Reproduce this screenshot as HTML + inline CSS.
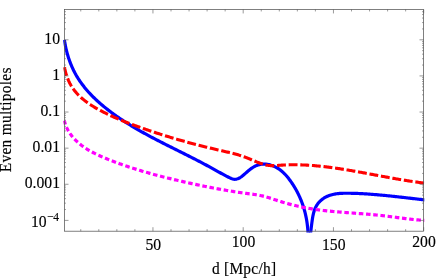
<!DOCTYPE html>
<html><head><meta charset="utf-8"><title>plot</title>
<style>
html,body{margin:0;padding:0;background:#fff;}
body{width:436px;height:278px;overflow:hidden;}
svg{display:block;}
text{font-family:"Liberation Serif",serif;font-size:15.4px;fill:#000;stroke:#000;stroke-width:0.15px;}
#w{will-change:transform;opacity:0.999;width:436px;height:278px;}
</style></head><body>
<div id="w"><svg width="436" height="278" viewBox="0 0 436 278">
<rect width="436" height="278" fill="#fff"/>
<defs><clipPath id="c"><rect x="63.2" y="9.45" width="361.1" height="223.15"/></clipPath></defs>
<g clip-path="url(#c)" fill="none" stroke-linejoin="round">
<path d="M64.40,39.90 L64.55,40.88 L64.70,41.87 L64.87,42.85 L65.04,43.83 L65.22,44.81 L65.41,45.79 L65.61,46.77 L65.82,47.75 L66.04,48.73 L66.26,49.71 L66.50,50.68 L66.75,51.65 L67.00,52.62 L67.26,53.59 L67.54,54.56 L67.82,55.52 L68.11,56.48 L68.41,57.44 L68.72,58.39 L69.04,59.35 L69.37,60.29 L69.71,61.24 L70.06,62.18 L70.42,63.11 L70.79,64.05 L71.16,64.97 L71.55,65.90 L71.95,66.82 L72.35,67.73 L72.77,68.64 L73.20,69.54 L73.63,70.44 L74.08,71.33 L74.54,72.22 L75.00,73.10 L75.48,73.97 L75.96,74.84 L76.46,75.70 L76.97,76.56 L77.48,77.41 L78.00,78.25 L78.54,79.09 L79.08,79.92 L79.63,80.74 L80.19,81.56 L80.76,82.38 L81.34,83.19 L81.93,83.99 L82.52,84.79 L83.12,85.58 L83.73,86.36 L84.35,87.14 L84.98,87.92 L85.61,88.68 L86.25,89.45 L86.90,90.21 L87.55,90.96 L88.21,91.70 L88.88,92.45 L89.56,93.18 L90.24,93.91 L90.93,94.64 L91.62,95.36 L92.32,96.08 L93.03,96.79 L93.74,97.49 L94.46,98.19 L95.18,98.89 L95.91,99.58 L96.64,100.27 L97.38,100.95 L98.12,101.62 L98.87,102.30 L99.63,102.96 L100.38,103.62 L101.15,104.28 L101.91,104.93 L102.68,105.58 L103.46,106.23 L104.23,106.87 L105.02,107.50 L105.80,108.13 L106.59,108.76 L107.38,109.38 L108.18,110.00 L108.97,110.61 L109.77,111.22 L110.58,111.83 L111.38,112.43 L112.19,113.03 L113.00,113.62 L113.81,114.21 L114.63,114.79 L115.45,115.38 L116.26,115.95 L117.08,116.53 L117.91,117.10 L118.73,117.66 L119.56,118.23 L120.39,118.79 L121.22,119.34 L122.05,119.90 L122.88,120.44 L123.72,120.99 L124.56,121.53 L125.40,122.07 L126.24,122.61 L127.08,123.14 L127.93,123.67 L128.77,124.20 L129.62,124.72 L130.47,125.25 L131.32,125.76 L132.17,126.28 L133.03,126.79 L133.88,127.30 L134.74,127.81 L135.60,128.32 L136.46,128.82 L137.32,129.32 L138.18,129.82 L139.05,130.31 L139.91,130.81 L140.78,131.30 L141.65,131.79 L142.52,132.27 L143.39,132.76 L144.26,133.24 L145.13,133.72 L146.01,134.20 L146.88,134.68 L147.76,135.15 L148.63,135.63 L149.51,136.10 L150.39,136.57 L151.27,137.04 L152.15,137.50 L153.03,137.97 L153.91,138.43 L154.80,138.89 L155.68,139.36 L156.57,139.82 L157.45,140.28 L158.34,140.73 L159.22,141.19 L160.11,141.65 L161.00,142.10 L161.89,142.55 L162.78,143.01 L163.67,143.46 L164.56,143.91 L165.45,144.36 L166.34,144.81 L167.23,145.26 L168.13,145.71 L169.02,146.16 L169.91,146.60 L170.81,147.05 L171.70,147.50 L172.59,147.94 L173.49,148.39 L174.38,148.84 L175.28,149.28 L176.17,149.73 L177.07,150.18 L177.96,150.62 L178.86,151.07 L179.75,151.51 L180.65,151.96 L181.54,152.41 L182.44,152.85 L183.33,153.30 L184.23,153.75 L185.12,154.20 L186.02,154.65 L186.91,155.10 L187.81,155.55 L188.70,156.00 L189.60,156.45 L190.49,156.90 L191.38,157.35 L192.28,157.81 L193.17,158.26 L194.06,158.72 L194.96,159.18 L195.85,159.63 L196.74,160.09 L197.63,160.55 L198.52,161.02 L199.41,161.48 L200.30,161.94 L201.19,162.41 L202.07,162.88 L202.96,163.35 L203.85,163.82 L204.73,164.29 L205.62,164.76 L206.50,165.24 L207.39,165.72 L208.27,166.20 L209.15,166.68 L210.03,167.16 L210.91,167.65 L211.79,168.13 L212.67,168.62 L213.55,169.11 L214.43,169.60 L215.31,170.09 L216.18,170.58 L217.06,171.07 L217.94,171.55 L218.82,172.04 L219.70,172.52 L220.58,173.01 L221.46,173.49 L222.34,173.96 L223.22,174.44 L224.10,174.91 L224.99,175.38 L225.87,175.84 L226.76,176.30 L227.65,176.75 L228.54,177.20 L229.43,177.64 L230.32,178.07 L231.22,178.46 L232.12,178.79 L233.02,179.06 L233.92,179.23 L234.83,179.29 L235.74,179.24 L236.64,179.07 L237.54,178.81 L238.44,178.46 L239.32,178.03 L240.20,177.53 L241.05,176.97 L241.89,176.36 L242.72,175.70 L243.54,175.02 L244.35,174.32 L245.16,173.60 L245.95,172.89 L246.75,172.18 L247.54,171.49 L248.33,170.82 L249.12,170.16 L249.91,169.53 L250.71,168.91 L251.51,168.33 L252.32,167.77 L253.15,167.25 L253.98,166.75 L254.82,166.29 L255.68,165.87 L256.55,165.48 L257.45,165.14 L258.36,164.84 L259.28,164.59 L260.22,164.38 L261.17,164.22 L262.13,164.12 L263.09,164.06 L264.06,164.05 L265.04,164.08 L266.02,164.16 L267.00,164.28 L267.97,164.44 L268.95,164.65 L269.93,164.89 L270.89,165.17 L271.86,165.49 L272.81,165.84 L273.76,166.23 L274.69,166.65 L275.61,167.10 L276.52,167.58 L277.41,168.09 L278.28,168.63 L279.13,169.20 L279.97,169.79 L280.78,170.40 L281.57,171.04 L282.34,171.70 L283.09,172.37 L283.82,173.07 L284.54,173.78 L285.24,174.51 L285.92,175.26 L286.59,176.02 L287.24,176.79 L287.88,177.57 L288.51,178.36 L289.12,179.16 L289.73,179.97 L290.32,180.78 L290.91,181.60 L291.48,182.42 L292.05,183.25 L292.60,184.09 L293.15,184.93 L293.69,185.77 L294.21,186.62 L294.73,187.48 L295.23,188.34 L295.73,189.20 L296.22,190.08 L296.69,190.95 L297.16,191.83 L297.62,192.71 L298.06,193.60 L298.50,194.50 L298.93,195.39 L299.35,196.30 L299.75,197.20 L300.15,198.11 L300.54,199.03 L300.92,199.95 L301.29,200.87 L301.65,201.79 L302.00,202.72 L302.34,203.66 L302.66,204.60 L302.98,205.54 L303.30,206.48 L303.60,207.43 L303.89,208.38 L304.17,209.33 L304.44,210.29 L304.70,211.25 L304.95,212.21 L305.19,213.18 L305.43,214.15 L305.65,215.12 L305.86,216.10 L306.07,217.07 L306.26,218.05 L306.44,219.03 L306.62,220.02 L306.78,221.01 L306.94,221.99 L307.08,222.99 L307.22,223.98 L307.34,224.97 L307.46,225.97 L307.57,226.97 L307.66,227.97 L307.75,228.97 L307.83,229.98 L307.90,230.98 L307.96,231.99 L308.01,233.00 L308.05,234.00" stroke="#0000ff" stroke-width="3.2"/>
<path d="M310.45,234.00 L310.57,233.05 L310.70,232.09 L310.83,231.12 L310.95,230.14 L311.07,229.15 L311.19,228.15 L311.32,227.15 L311.44,226.15 L311.57,225.14 L311.70,224.13 L311.83,223.11 L311.96,222.10 L312.11,221.09 L312.25,220.08 L312.40,219.07 L312.56,218.07 L312.73,217.07 L312.91,216.08 L313.10,215.10 L313.32,214.13 L313.55,213.16 L313.80,212.21 L314.08,211.27 L314.38,210.34 L314.72,209.43 L315.08,208.53 L315.48,207.65 L315.91,206.79 L316.38,205.94 L316.88,205.12 L317.41,204.32 L317.98,203.54 L318.58,202.78 L319.22,202.05 L319.90,201.34 L320.61,200.66 L321.37,200.01 L322.15,199.39 L322.96,198.79 L323.80,198.23 L324.66,197.70 L325.54,197.20 L326.43,196.74 L327.33,196.32 L328.23,195.93 L329.14,195.57 L330.06,195.25 L330.99,194.95 L331.92,194.69 L332.86,194.45 L333.80,194.24 L334.75,194.06 L335.70,193.90 L336.66,193.76 L337.63,193.64 L338.60,193.54 L339.57,193.45 L340.55,193.38 L341.53,193.33 L342.51,193.29 L343.50,193.26 L344.49,193.24 L345.49,193.23 L346.49,193.23 L347.49,193.23 L348.49,193.24 L349.50,193.25 L350.51,193.26 L351.52,193.28 L352.53,193.30 L353.54,193.33 L354.56,193.36 L355.57,193.39 L356.59,193.42 L357.61,193.46 L358.63,193.51 L359.64,193.55 L360.66,193.60 L361.68,193.65 L362.69,193.71 L363.71,193.77 L364.73,193.83 L365.74,193.89 L366.75,193.95 L367.77,194.02 L368.78,194.09 L369.78,194.16 L370.79,194.24 L371.79,194.31 L372.79,194.39 L373.79,194.47 L374.79,194.55 L375.78,194.63 L376.77,194.71 L377.76,194.80 L378.75,194.88 L379.73,194.97 L380.71,195.06 L381.69,195.15 L382.67,195.24 L383.65,195.34 L384.63,195.43 L385.60,195.53 L386.58,195.62 L387.55,195.72 L388.52,195.82 L389.49,195.92 L390.46,196.02 L391.44,196.12 L392.41,196.23 L393.38,196.33 L394.34,196.43 L395.31,196.54 L396.28,196.65 L397.25,196.75 L398.22,196.86 L399.20,196.97 L400.17,197.08 L401.14,197.19 L402.11,197.30 L403.09,197.41 L404.06,197.52 L405.04,197.63 L406.02,197.74 L406.99,197.86 L407.97,197.97 L408.96,198.08 L409.94,198.20 L410.93,198.31 L411.92,198.42 L412.91,198.54 L413.90,198.65 L414.89,198.76 L415.89,198.88 L416.89,198.99 L417.89,199.11 L418.90,199.22 L419.91,199.33 L420.92,199.45 L421.94,199.56 L422.95,199.67 L423.98,199.79 L425.00,199.90" stroke="#0000ff" stroke-width="3.2"/>
<path d="M64.51,67.20 L64.67,68.10 L64.84,69.02 L65.04,69.95 L65.26,70.90 L65.50,71.86 L65.76,72.83 L66.04,73.81 L66.34,74.79 L66.66,75.77 L67.00,76.75 L67.36,77.74 L67.73,78.71 L68.13,79.69 L68.54,80.65 L68.98,81.60 L69.43,82.54 L69.89,83.46 L70.38,84.36 L70.88,85.25 L71.40,86.12 L71.94,86.98 L72.49,87.82 L73.06,88.65 L73.65,89.46 L74.24,90.26 L74.86,91.04 L75.49,91.81 L76.13,92.56 L76.78,93.31 L77.45,94.03 L78.13,94.75 L78.82,95.45 L79.53,96.14 L80.24,96.82 L80.97,97.49 L81.71,98.14 L82.46,98.79 L83.22,99.42 L83.99,100.04 L84.76,100.65 L85.55,101.25 L86.34,101.85 L87.15,102.43 L87.96,103.00 L88.77,103.57 L89.60,104.12 L90.43,104.67 L91.27,105.21 L92.11,105.74 L92.96,106.27 L93.81,106.78 L94.67,107.30 L95.53,107.80 L96.40,108.30 L97.27,108.79 L98.14,109.27 L99.02,109.75 L99.90,110.23 L100.78,110.70 L101.66,111.16 L102.54,111.62 L103.43,112.08 L104.32,112.53 L105.21,112.98 L106.10,113.42 L106.99,113.86 L107.89,114.29 L108.78,114.72 L109.68,115.15 L110.58,115.57 L111.48,115.99 L112.38,116.40 L113.29,116.81 L114.20,117.22 L115.10,117.62 L116.01,118.02 L116.92,118.42 L117.84,118.81 L118.75,119.20 L119.67,119.58 L120.58,119.97 L121.50,120.34 L122.42,120.72 L123.34,121.10 L124.26,121.47 L125.19,121.83 L126.11,122.20 L127.04,122.56 L127.97,122.92 L128.90,123.28 L129.83,123.64 L130.76,123.99 L131.69,124.34 L132.63,124.69 L133.56,125.04 L134.50,125.38 L135.44,125.73 L136.37,126.07 L137.31,126.41 L138.26,126.74 L139.20,127.08 L140.14,127.41 L141.08,127.75 L142.03,128.08 L142.97,128.41 L143.92,128.74 L144.87,129.07 L145.82,129.39 L146.77,129.72 L147.72,130.04 L148.67,130.37 L149.62,130.69 L150.57,131.01 L151.53,131.33 L152.48,131.64 L153.44,131.96 L154.39,132.27 L155.35,132.59 L156.31,132.90 L157.27,133.21 L158.22,133.52 L159.18,133.83 L160.14,134.13 L161.10,134.44 L162.07,134.74 L163.03,135.04 L163.99,135.34 L164.95,135.64 L165.92,135.94 L166.88,136.24 L167.84,136.53 L168.81,136.83 L169.77,137.12 L170.74,137.41 L171.70,137.70 L172.67,137.99 L173.64,138.28 L174.60,138.56 L175.57,138.85 L176.54,139.13 L177.50,139.41 L178.47,139.69 L179.44,139.97 L180.41,140.25 L181.38,140.52 L182.34,140.80 L183.31,141.07 L184.28,141.34 L185.25,141.61 L186.22,141.88 L187.19,142.15 L188.16,142.41 L189.12,142.68 L190.09,142.94 L191.06,143.20 L192.03,143.46 L193.00,143.72 L193.97,143.98 L194.94,144.23 L195.90,144.49 L196.87,144.74 L197.84,144.99 L198.81,145.24 L199.78,145.49 L200.74,145.74 L201.71,145.98 L202.68,146.23 L203.64,146.47 L204.61,146.71 L205.57,146.95 L206.54,147.19 L207.50,147.43 L208.47,147.66 L209.43,147.90 L210.40,148.13 L211.36,148.36 L212.32,148.59 L213.29,148.82 L214.25,149.04 L215.21,149.27 L216.17,149.49 L217.13,149.71 L218.09,149.93 L219.05,150.15 L220.00,150.37 L220.96,150.59 L221.92,150.80 L222.88,151.02 L223.83,151.24 L224.79,151.45 L225.74,151.67 L226.70,151.89 L227.65,152.12 L228.60,152.34 L229.55,152.57 L230.51,152.80 L231.46,153.04 L232.41,153.28 L233.36,153.53 L234.31,153.78 L235.26,154.04 L236.21,154.30 L237.16,154.57 L238.11,154.85 L239.06,155.14 L240.00,155.43 L240.95,155.73 L241.90,156.05 L242.85,156.37 L243.79,156.70 L244.74,157.04 L245.69,157.40 L246.63,157.76 L247.58,158.13 L248.53,158.52 L249.47,158.91 L250.42,159.30 L251.37,159.70 L252.32,160.10 L253.27,160.51 L254.22,160.91 L255.17,161.30 L256.12,161.69 L257.08,162.08 L258.04,162.46 L259.00,162.82 L259.96,163.18 L260.92,163.52 L261.89,163.84 L262.86,164.15 L263.83,164.44 L264.80,164.70 L265.77,164.93 L266.75,165.14 L267.73,165.31 L268.71,165.45 L269.69,165.55 L270.67,165.62 L271.65,165.65 L272.64,165.66 L273.62,165.65 L274.61,165.61 L275.60,165.56 L276.59,165.50 L277.57,165.43 L278.56,165.35 L279.55,165.28 L280.54,165.21 L281.53,165.14 L282.52,165.08 L283.51,165.03 L284.50,164.98 L285.49,164.94 L286.48,164.90 L287.47,164.87 L288.47,164.84 L289.46,164.81 L290.45,164.80 L291.44,164.78 L292.43,164.77 L293.42,164.77 L294.41,164.77 L295.41,164.77 L296.40,164.78 L297.39,164.80 L298.38,164.82 L299.38,164.84 L300.37,164.87 L301.36,164.90 L302.36,164.93 L303.35,164.97 L304.34,165.02 L305.33,165.06 L306.33,165.11 L307.32,165.17 L308.31,165.23 L309.31,165.29 L310.30,165.36 L311.30,165.43 L312.29,165.50 L313.28,165.58 L314.28,165.66 L315.27,165.75 L316.27,165.83 L317.26,165.93 L318.25,166.02 L319.25,166.12 L320.24,166.22 L321.24,166.32 L322.23,166.43 L323.22,166.54 L324.22,166.65 L325.21,166.77 L326.21,166.89 L327.20,167.01 L328.20,167.13 L329.19,167.26 L330.19,167.39 L331.18,167.52 L332.17,167.65 L333.17,167.79 L334.16,167.93 L335.16,168.07 L336.15,168.21 L337.14,168.35 L338.14,168.50 L339.13,168.65 L340.13,168.80 L341.12,168.96 L342.12,169.11 L343.11,169.27 L344.10,169.43 L345.10,169.59 L346.09,169.75 L347.08,169.91 L348.08,170.08 L349.07,170.25 L350.06,170.41 L351.06,170.58 L352.05,170.75 L353.04,170.93 L354.04,171.10 L355.03,171.27 L356.02,171.45 L357.02,171.63 L358.01,171.80 L359.00,171.98 L359.99,172.16 L360.99,172.34 L361.98,172.52 L362.97,172.71 L363.96,172.89 L364.95,173.07 L365.94,173.26 L366.94,173.44 L367.93,173.62 L368.92,173.81 L369.91,173.99 L370.90,174.18 L371.89,174.36 L372.88,174.55 L373.87,174.74 L374.86,174.92 L375.85,175.11 L376.84,175.29 L377.83,175.48 L378.82,175.67 L379.81,175.85 L380.79,176.04 L381.78,176.22 L382.77,176.40 L383.76,176.59 L384.75,176.77 L385.73,176.95 L386.72,177.14 L387.71,177.32 L388.70,177.50 L389.68,177.68 L390.67,177.86 L391.65,178.03 L392.64,178.21 L393.63,178.39 L394.61,178.56 L395.60,178.74 L396.58,178.91 L397.57,179.08 L398.55,179.25 L399.53,179.42 L400.52,179.59 L401.50,179.75 L402.48,179.92 L403.47,180.08 L404.45,180.24 L405.43,180.40 L406.41,180.56 L407.39,180.71 L408.37,180.87 L409.35,181.02 L410.34,181.17 L411.32,181.32 L412.30,181.46 L413.27,181.61 L414.25,181.75 L415.23,181.89 L416.21,182.03 L417.19,182.16 L418.17,182.29 L419.14,182.42 L420.12,182.55 L421.10,182.68 L422.07,182.80 L423.05,182.92 L424.02,183.03 L425.00,183.15" stroke="#ff0000" stroke-width="3.1" stroke-dasharray="8.88,2.76"/>
<path d="M64.38,120.69 L64.64,121.73 L64.92,122.75 L65.23,123.75 L65.56,124.73 L65.92,125.69 L66.30,126.64 L66.70,127.57 L67.13,128.49 L67.58,129.38 L68.04,130.27 L68.53,131.13 L69.04,131.98 L69.57,132.81 L70.11,133.63 L70.68,134.43 L71.26,135.22 L71.85,135.99 L72.47,136.75 L73.10,137.50 L73.74,138.23 L74.39,138.95 L75.06,139.65 L75.75,140.34 L76.44,141.02 L77.15,141.68 L77.87,142.34 L78.60,142.98 L79.34,143.61 L80.09,144.22 L80.86,144.83 L81.63,145.43 L82.41,146.01 L83.20,146.58 L84.01,147.15 L84.82,147.70 L85.64,148.24 L86.47,148.78 L87.30,149.30 L88.15,149.82 L89.00,150.32 L89.86,150.82 L90.72,151.31 L91.60,151.79 L92.48,152.26 L93.36,152.73 L94.25,153.19 L95.15,153.64 L96.05,154.08 L96.95,154.52 L97.87,154.95 L98.78,155.38 L99.70,155.80 L100.62,156.21 L101.55,156.62 L102.48,157.03 L103.41,157.43 L104.34,157.82 L105.28,158.21 L106.22,158.60 L107.16,158.98 L108.10,159.36 L109.04,159.73 L109.98,160.10 L110.93,160.47 L111.87,160.84 L112.81,161.20 L113.76,161.56 L114.70,161.92 L115.65,162.28 L116.60,162.63 L117.54,162.98 L118.49,163.32 L119.44,163.67 L120.39,164.01 L121.34,164.35 L122.29,164.68 L123.24,165.01 L124.19,165.34 L125.14,165.67 L126.09,166.00 L127.04,166.32 L127.99,166.64 L128.95,166.96 L129.90,167.27 L130.85,167.59 L131.81,167.90 L132.76,168.20 L133.72,168.51 L134.67,168.81 L135.63,169.11 L136.59,169.41 L137.55,169.71 L138.50,170.00 L139.46,170.30 L140.42,170.59 L141.38,170.87 L142.34,171.16 L143.30,171.44 L144.26,171.73 L145.22,172.01 L146.18,172.28 L147.14,172.56 L148.10,172.83 L149.06,173.10 L150.03,173.37 L150.99,173.64 L151.95,173.91 L152.92,174.17 L153.88,174.44 L154.85,174.70 L155.81,174.96 L156.78,175.21 L157.74,175.47 L158.71,175.73 L159.67,175.98 L160.64,176.23 L161.61,176.48 L162.58,176.73 L163.54,176.97 L164.51,177.22 L165.48,177.46 L166.45,177.70 L167.42,177.94 L168.39,178.18 L169.36,178.42 L170.33,178.66 L171.30,178.89 L172.27,179.13 L173.24,179.36 L174.21,179.59 L175.18,179.82 L176.15,180.05 L177.12,180.28 L178.10,180.51 L179.07,180.74 L180.04,180.96 L181.01,181.18 L181.99,181.41 L182.96,181.63 L183.93,181.85 L184.91,182.07 L185.88,182.29 L186.86,182.51 L187.83,182.73 L188.81,182.94 L189.78,183.16 L190.76,183.37 L191.73,183.59 L192.71,183.80 L193.68,184.01 L194.66,184.22 L195.64,184.43 L196.61,184.64 L197.59,184.84 L198.57,185.05 L199.54,185.25 L200.52,185.46 L201.50,185.66 L202.48,185.86 L203.46,186.06 L204.43,186.26 L205.41,186.46 L206.39,186.65 L207.37,186.85 L208.35,187.04 L209.33,187.23 L210.30,187.42 L211.28,187.61 L212.26,187.80 L213.24,187.99 L214.22,188.17 L215.20,188.36 L216.18,188.54 L217.16,188.72 L218.14,188.90 L219.12,189.08 L220.10,189.26 L221.08,189.43 L222.06,189.61 L223.04,189.78 L224.02,189.95 L225.00,190.12 L225.98,190.29 L226.96,190.46 L227.94,190.62 L228.93,190.78 L229.91,190.95 L230.89,191.11 L231.87,191.26 L232.85,191.42 L233.83,191.58 L234.81,191.73 L235.79,191.88 L236.77,192.03 L237.75,192.18 L238.74,192.33 L239.72,192.47 L240.70,192.61 L241.68,192.75 L242.66,192.89 L243.64,193.03 L244.62,193.17 L245.60,193.30 L246.59,193.43 L247.57,193.56 L248.55,193.69 L249.53,193.82 L250.51,193.94 L251.49,194.07 L252.47,194.20 L253.45,194.34 L254.43,194.48 L255.41,194.63 L256.39,194.78 L257.37,194.94 L258.35,195.12 L259.33,195.30 L260.31,195.50 L261.29,195.71 L262.27,195.93 L263.25,196.17 L264.23,196.42 L265.20,196.68 L266.18,196.96 L267.16,197.24 L268.13,197.53 L269.11,197.83 L270.08,198.14 L271.06,198.45 L272.03,198.76 L273.00,199.08 L273.98,199.40 L274.95,199.72 L275.92,200.04 L276.89,200.36 L277.86,200.67 L278.83,200.98 L279.80,201.29 L280.77,201.59 L281.73,201.89 L282.70,202.18 L283.67,202.47 L284.63,202.76 L285.60,203.03 L286.56,203.31 L287.53,203.58 L288.49,203.84 L289.45,204.10 L290.42,204.36 L291.38,204.61 L292.35,204.85 L293.31,205.10 L294.27,205.33 L295.24,205.57 L296.20,205.79 L297.16,206.02 L298.13,206.24 L299.09,206.45 L300.06,206.66 L301.02,206.87 L301.99,207.07 L302.96,207.27 L303.92,207.46 L304.89,207.65 L305.86,207.83 L306.83,208.01 L307.80,208.19 L308.77,208.36 L309.74,208.53 L310.72,208.69 L311.69,208.85 L312.67,209.00 L313.64,209.15 L314.62,209.30 L315.60,209.44 L316.57,209.58 L317.55,209.72 L318.53,209.85 L319.52,209.98 L320.50,210.11 L321.48,210.23 L322.46,210.35 L323.45,210.47 L324.43,210.58 L325.42,210.69 L326.41,210.80 L327.39,210.91 L328.38,211.01 L329.37,211.11 L330.36,211.21 L331.35,211.31 L332.34,211.41 L333.33,211.50 L334.33,211.59 L335.32,211.68 L336.31,211.77 L337.31,211.85 L338.30,211.94 L339.30,212.02 L340.29,212.10 L341.29,212.18 L342.28,212.26 L343.28,212.34 L344.28,212.42 L345.28,212.49 L346.27,212.57 L347.27,212.64 L348.27,212.72 L349.27,212.79 L350.27,212.87 L351.27,212.94 L352.27,213.01 L353.27,213.09 L354.27,213.16 L355.27,213.23 L356.28,213.31 L357.28,213.38 L358.28,213.46 L359.28,213.53 L360.28,213.61 L361.29,213.69 L362.29,213.76 L363.29,213.84 L364.29,213.92 L365.30,214.00 L366.30,214.08 L367.30,214.17 L368.30,214.25 L369.31,214.34 L370.31,214.43 L371.31,214.52 L372.32,214.61 L373.32,214.70 L374.32,214.80 L375.32,214.89 L376.33,214.99 L377.33,215.10 L378.33,215.20 L379.33,215.31 L380.34,215.42 L381.34,215.53 L382.34,215.64 L383.34,215.76 L384.34,215.88 L385.34,216.00 L386.35,216.12 L387.35,216.25 L388.35,216.37 L389.35,216.50 L390.35,216.63 L391.34,216.76 L392.34,216.88 L393.34,217.01 L394.34,217.15 L395.34,217.28 L396.34,217.41 L397.33,217.54 L398.33,217.67 L399.32,217.80 L400.32,217.93 L401.31,218.06 L402.31,218.18 L403.30,218.31 L404.30,218.43 L405.29,218.56 L406.28,218.68 L407.27,218.80 L408.26,218.92 L409.25,219.03 L410.24,219.15 L411.23,219.26 L412.22,219.37 L413.21,219.47 L414.19,219.57 L415.18,219.67 L416.17,219.77 L417.15,219.86 L418.13,219.95 L419.12,220.03 L420.10,220.11 L421.08,220.19 L422.06,220.26 L423.04,220.33 L424.02,220.39 L425.00,220.45" stroke="#ff00ff" stroke-width="3.2" stroke-dasharray="4.53,2.71" stroke-dashoffset="0.45"/>
</g>
<rect x="64.5" y="9.45" width="359.0" height="221.75" fill="none" stroke="#555555" stroke-width="0.75"/>
<path d="M80.75,231.20 v-2.00 M80.75,9.45 v2.00 M98.80,231.20 v-2.00 M98.80,9.45 v2.00 M116.85,231.20 v-2.00 M116.85,9.45 v2.00 M134.90,231.20 v-2.00 M134.90,9.45 v2.00 M152.95,231.20 v-4.00 M152.95,9.45 v4.00 M171.00,231.20 v-2.00 M171.00,9.45 v2.00 M189.05,231.20 v-2.00 M189.05,9.45 v2.00 M207.10,231.20 v-2.00 M207.10,9.45 v2.00 M225.15,231.20 v-2.00 M225.15,9.45 v2.00 M243.20,231.20 v-4.00 M243.20,9.45 v4.00 M261.25,231.20 v-2.00 M261.25,9.45 v2.00 M279.30,231.20 v-2.00 M279.30,9.45 v2.00 M297.35,231.20 v-2.00 M297.35,9.45 v2.00 M315.40,231.20 v-2.00 M315.40,9.45 v2.00 M333.45,231.20 v-4.00 M333.45,9.45 v4.00 M351.50,231.20 v-2.00 M351.50,9.45 v2.00 M369.55,231.20 v-2.00 M369.55,9.45 v2.00 M387.60,231.20 v-2.00 M387.60,9.45 v2.00 M405.65,231.20 v-2.00 M405.65,9.45 v2.00 M423.70,231.20 v-4.00 M423.70,9.45 v4.00 M64.50,220.40 h4.00 M423.50,220.40 h-4.00 M64.50,209.53 h1.40 M423.50,209.53 h-1.40 M64.50,203.17 h1.40 M423.50,203.17 h-1.40 M64.50,198.65 h1.40 M423.50,198.65 h-1.40 M64.50,195.15 h1.40 M423.50,195.15 h-1.40 M64.50,192.29 h1.40 M423.50,192.29 h-1.40 M64.50,189.88 h1.40 M423.50,189.88 h-1.40 M64.50,187.78 h1.40 M423.50,187.78 h-1.40 M64.50,185.93 h1.40 M423.50,185.93 h-1.40 M64.50,184.28 h4.00 M423.50,184.28 h-4.00 M64.50,173.41 h1.40 M423.50,173.41 h-1.40 M64.50,167.05 h1.40 M423.50,167.05 h-1.40 M64.50,162.53 h1.40 M423.50,162.53 h-1.40 M64.50,159.03 h1.40 M423.50,159.03 h-1.40 M64.50,156.17 h1.40 M423.50,156.17 h-1.40 M64.50,153.76 h1.40 M423.50,153.76 h-1.40 M64.50,151.66 h1.40 M423.50,151.66 h-1.40 M64.50,149.81 h1.40 M423.50,149.81 h-1.40 M64.50,148.16 h4.00 M423.50,148.16 h-4.00 M64.50,137.29 h1.40 M423.50,137.29 h-1.40 M64.50,130.93 h1.40 M423.50,130.93 h-1.40 M64.50,126.41 h1.40 M423.50,126.41 h-1.40 M64.50,122.91 h1.40 M423.50,122.91 h-1.40 M64.50,120.05 h1.40 M423.50,120.05 h-1.40 M64.50,117.64 h1.40 M423.50,117.64 h-1.40 M64.50,115.54 h1.40 M423.50,115.54 h-1.40 M64.50,113.69 h1.40 M423.50,113.69 h-1.40 M64.50,112.04 h4.00 M423.50,112.04 h-4.00 M64.50,101.17 h1.40 M423.50,101.17 h-1.40 M64.50,94.81 h1.40 M423.50,94.81 h-1.40 M64.50,90.29 h1.40 M423.50,90.29 h-1.40 M64.50,86.79 h1.40 M423.50,86.79 h-1.40 M64.50,83.93 h1.40 M423.50,83.93 h-1.40 M64.50,81.52 h1.40 M423.50,81.52 h-1.40 M64.50,79.42 h1.40 M423.50,79.42 h-1.40 M64.50,77.57 h1.40 M423.50,77.57 h-1.40 M64.50,75.92 h4.00 M423.50,75.92 h-4.00 M64.50,65.05 h1.40 M423.50,65.05 h-1.40 M64.50,58.69 h1.40 M423.50,58.69 h-1.40 M64.50,54.17 h1.40 M423.50,54.17 h-1.40 M64.50,50.67 h1.40 M423.50,50.67 h-1.40 M64.50,47.81 h1.40 M423.50,47.81 h-1.40 M64.50,45.40 h1.40 M423.50,45.40 h-1.40 M64.50,43.30 h1.40 M423.50,43.30 h-1.40 M64.50,41.45 h1.40 M423.50,41.45 h-1.40 M64.50,39.80 h4.00 M423.50,39.80 h-4.00 M64.50,28.93 h1.40 M423.50,28.93 h-1.40 M64.50,22.57 h1.40 M423.50,22.57 h-1.40 M64.50,18.05 h1.40 M423.50,18.05 h-1.40 M64.50,14.55 h1.40 M423.50,14.55 h-1.40 M64.50,11.69 h1.40 M423.50,11.69 h-1.40" stroke="#555555" stroke-width="0.6" fill="none"/>
<text transform="translate(60.00,43.50) scale(1,1.120)" text-anchor="end" style="font-size:15.7px">10</text>
<text transform="translate(60.00,79.62) scale(1,1.120)" text-anchor="end" style="font-size:15.7px">1</text>
<text transform="translate(60.00,115.74) scale(1,1.120)" text-anchor="end" style="font-size:15.7px">0.1</text>
<text transform="translate(60.00,151.86) scale(1,1.120)" text-anchor="end" style="font-size:15.7px">0.01</text>
<text transform="translate(60.00,187.98) scale(1,1.120)" text-anchor="end" style="font-size:15.7px">0.001</text>
<text transform="translate(46.60,226.70) scale(1,1.120)" text-anchor="end" style="font-size:15.7px">10</text>
<text transform="translate(46.90,221.00) scale(1,1.120)" text-anchor="start" style="font-size:11.5px">−4</text>
<text transform="translate(153.25,250.40) scale(1,1.120)" text-anchor="middle" style="font-size:15.7px">50</text>
<text transform="translate(243.50,246.60) scale(1,1.120)" text-anchor="middle" style="font-size:15.7px">100</text>
<text transform="translate(333.75,250.40) scale(1,1.120)" text-anchor="middle" style="font-size:15.7px">150</text>
<text transform="translate(424.00,246.60) scale(1,1.120)" text-anchor="middle" style="font-size:15.7px">200</text>
<text transform="translate(211.9,274.3) scale(1,1.13)" textLength="64.2" lengthAdjust="spacing">d [Mpc/h]</text>
<text transform="translate(11.0,172.2) rotate(-90) scale(1,1.14)" textLength="104.6" lengthAdjust="spacing">Even multipoles</text>
</svg></div>
</body></html>
